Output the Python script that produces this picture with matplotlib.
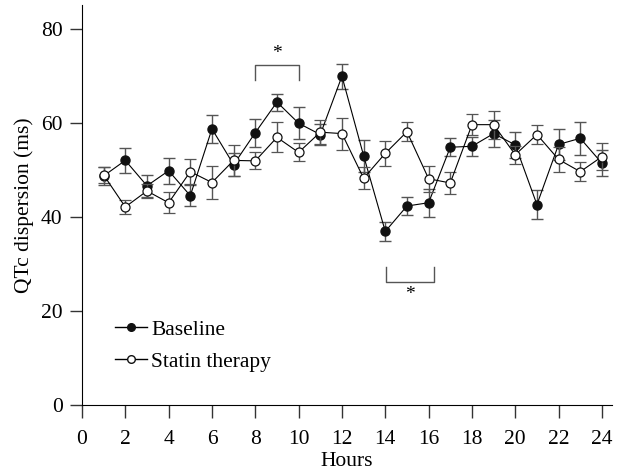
import numpy as np
import matplotlib.pyplot as plt
from matplotlib.lines import Line2D

plt.rcParams['font.family'] = ['Liberation Serif', 'DejaVu Serif']

hours = np.arange(1, 25)

baseline = [48.7, 52.0, 46.6, 49.8, 44.5, 58.7, 51.1, 57.9, 64.4, 59.9, 57.5, 69.9,
            53.0, 36.9, 42.3, 43.0, 54.8, 55.0, 57.7, 55.3, 42.6, 55.4, 56.7, 51.4]
baseline_err = [2.0, 2.7, 2.4, 2.8, 2.3, 2.9, 2.5, 3.0, 1.8, 3.4, 2.2, 2.7,
                3.4, 2.1, 1.9, 3.0, 1.9, 2.0, 2.9, 2.7, 3.1, 3.3, 3.5, 2.8]

statin = [48.9, 42.1, 45.5, 43.0, 49.6, 47.3, 52.0, 51.9, 56.9, 53.7, 58.0, 57.7,
          48.2, 53.5, 58.1, 48.1, 47.2, 59.6, 59.6, 53.2, 57.5, 52.2, 49.6, 52.8]
statin_err = [1.6, 1.4, 1.4, 2.2, 2.6, 3.6, 3.3, 1.8, 3.2, 1.9, 2.6, 3.4,
              2.3, 2.6, 2.0, 2.8, 2.3, 2.2, 3.0, 1.9, 2.0, 2.6, 2.0, 2.9]

fig = plt.figure(figsize=(6.21, 4.72), dpi=100)
ax = fig.add_axes([0.132, 0.142, 0.853, 0.847])

ax.errorbar(hours, baseline, yerr=baseline_err, fmt='-o', color='black',
            ecolor='#555555', elinewidth=1, capsize=4, capthick=1, lw=0.8,
            markersize=6.5, mfc='#111111', mec='#111111', zorder=2)
ax.errorbar(hours, statin, yerr=statin_err, fmt='-o', color='black',
            ecolor='#555555', elinewidth=1, capsize=4, capthick=1, lw=0.8,
            markersize=6.5, mfc='white', mec='#111111', mew=0.9, zorder=3)

# significance brackets
ax.plot([8, 8, 10, 10], [69.2, 72.3, 72.3, 69.2], color='#555555', lw=1)
ax.text(9, 73.0, '*', ha='center', va='bottom', fontsize=14)
ax.plot([14.05, 14.05, 16.25, 16.25], [29.3, 26.2, 26.2, 29.3], color='#555555', lw=1)
ax.text(15.15, 25.4, '*', ha='center', va='top', fontsize=14)

ax.set_xlim(0, 24.45)
ax.set_ylim(0, 85)
ax.set_xticks(range(0, 25, 2))
ax.set_yticks([0, 20, 40, 60, 80])
ax.spines['top'].set_visible(False)
ax.spines['right'].set_visible(False)
ax.tick_params(direction='out', length=9, width=1, labelsize=15.5, color='#333333')
ax.tick_params(axis='x', pad=9)
ax.tick_params(axis='y', pad=5)
ax.set_xlabel('Hours', fontsize=15.5, labelpad=2)
ax.set_ylabel('QTc dispersion (ms)', fontsize=15.5, labelpad=5)

handles = [Line2D([], [], color='black', lw=1, marker='o', markersize=5.5,
                  mfc='#111111', mec='#111111'),
           Line2D([], [], color='black', lw=1, marker='o', markersize=5.5,
                  mfc='white', mec='#111111')]
ax.legend(handles, ['Baseline', 'Statin therapy'], loc='lower left',
          bbox_to_anchor=(0.025, 0.035), frameon=False, fontsize=15.5,
          handlelength=1.5, handletextpad=0.2, labelspacing=0.55)

fig.savefig('out.png', dpi=100)
